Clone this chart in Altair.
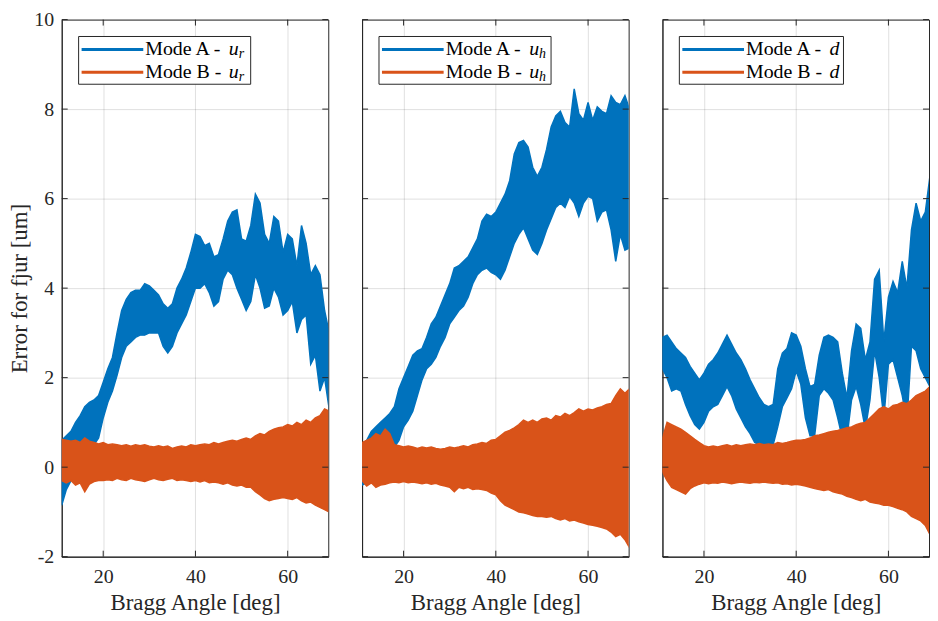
import altair as alt
import pandas as pd

# ---------------- data (envelopes) ----------------
DEG = list(range(11, 70))

# Panel 1 : u_r
P1_A_HI = [0.6, 0.7, 0.8, 1.0, 1.15, 1.35, 1.45, 1.5, 1.6, 1.9, 2.2, 2.45, 3.0, 3.5, 3.75, 3.9, 3.95, 3.95, 4.1, 4.05,
           3.95, 3.85, 3.65, 3.55, 3.65, 4.0, 4.2, 4.45, 4.8, 5.2, 5.15, 4.95, 5.0, 4.7, 4.75, 5.1, 5.5, 5.7, 5.75, 5.1,
           5.05, 5.4, 6.1, 5.9, 5.2, 5.0, 5.6, 5.5, 4.8, 5.2, 5.1, 4.5, 5.4, 5.0, 4.3, 4.5, 4.3, 3.5, 3.0]
P1_A_LO = [-0.85, -0.5, -0.3, -0.1, 0.05, 0.2, 0.35, 0.5, 0.65, 1.1, 1.45, 1.7, 2.05, 2.45, 2.7, 2.8, 2.9, 2.95, 2.95, 3.0,
           3.0, 3.0, 2.7, 2.55, 2.7, 3.0, 3.2, 3.4, 3.7, 4.0, 4.0, 4.1, 3.9, 3.6, 3.7, 4.2, 4.4, 4.3, 4.0, 3.75,
           3.5, 3.7, 4.3, 4.0, 3.55, 3.6, 4.0, 3.8, 3.4, 3.5, 3.7, 3.0, 3.3, 3.4, 2.3, 2.5, 1.7, 2.0, 1.3]
P1_B_HI = [0.62, 0.6, 0.58, 0.6, 0.55, 0.65, 0.58, 0.55, 0.52, 0.55, 0.5, 0.52, 0.5, 0.48, 0.5, 0.47, 0.5, 0.48, 0.5, 0.47,
           0.45, 0.48, 0.45, 0.47, 0.42, 0.45, 0.47, 0.45, 0.5, 0.48, 0.5, 0.52, 0.5, 0.55, 0.52, 0.55, 0.58, 0.6, 0.58, 0.62,
           0.65, 0.62, 0.7, 0.75, 0.72, 0.8, 0.85, 0.88, 0.9, 0.95, 0.92, 1.0, 0.95, 1.05, 1.0, 1.1, 1.15, 1.3, 1.25]
P1_B_LO = [-0.3, -0.35, -0.3, -0.4, -0.35, -0.55, -0.38, -0.32, -0.3, -0.3, -0.28, -0.3, -0.25, -0.28, -0.3, -0.25, -0.28, -0.3, -0.32, -0.28,
           -0.25, -0.28, -0.3, -0.27, -0.25, -0.3, -0.28, -0.3, -0.32, -0.3, -0.33, -0.3, -0.35, -0.33, -0.35, -0.38, -0.35, -0.4, -0.42, -0.4,
           -0.45, -0.45, -0.55, -0.62, -0.7, -0.75, -0.72, -0.7, -0.68, -0.7, -0.72, -0.68, -0.75, -0.8, -0.78, -0.85, -0.9, -0.95, -1.0]

# Panel 2 : u_h
P2_A_HI = [0.5, 0.6, 0.8, 0.9, 1.0, 1.1, 1.2, 1.35, 1.75, 2.0, 2.25, 2.5, 2.6, 2.65, 2.9, 3.2, 3.35, 3.6, 3.85, 4.1,
           4.45, 4.5, 4.6, 4.7, 4.9, 5.1, 5.5, 5.65, 5.6, 5.7, 5.9, 6.1, 6.4, 7.0, 7.25, 7.3, 7.15, 6.7, 6.5, 6.7,
           7.1, 7.6, 7.85, 7.95, 7.7, 7.6, 8.45, 7.9, 7.75, 8.15, 7.75, 8.05, 7.95, 7.9, 8.3, 8.15, 8.1, 8.3, 8.0]
P2_A_LO = [-0.4, -0.35, -0.25, -0.1, 0.0, 0.15, 0.3, 0.45, 0.6, 0.9, 1.05, 1.25, 1.6, 1.95, 2.2, 2.3, 2.45, 2.7, 2.9, 3.2,
           3.35, 3.5, 3.6, 3.8, 4.1, 4.3, 4.4, 4.45, 4.35, 4.3, 4.2, 4.4, 4.7, 5.0, 5.2, 5.35, 5.1, 4.85, 4.75, 5.0,
           5.3, 5.55, 5.8, 5.9, 5.8, 6.05, 5.9, 5.6, 5.9, 6.05, 6.0, 5.5, 5.7, 5.75, 5.3, 4.6, 5.2, 4.85, 4.9]
P2_B_HI = [0.55, 0.6, 0.65, 0.75, 0.7, 0.85, 0.75, 0.5, 0.48, 0.45, 0.47, 0.45, 0.42, 0.45, 0.43, 0.45, 0.42, 0.4, 0.42, 0.45,
           0.43, 0.45, 0.48, 0.45, 0.5, 0.52, 0.55, 0.53, 0.6, 0.62, 0.7, 0.78, 0.82, 0.88, 0.95, 1.05, 1.0, 1.05, 1.0, 1.08,
           1.1, 1.05, 1.15, 1.12, 1.2, 1.15, 1.22, 1.3, 1.25, 1.3, 1.28, 1.32, 1.35, 1.4, 1.42, 1.6, 1.75, 1.65, 1.75]
P2_B_LO = [-0.3, -0.42, -0.35, -0.45, -0.4, -0.38, -0.35, -0.33, -0.35, -0.32, -0.35, -0.33, -0.35, -0.37, -0.35, -0.38, -0.36, -0.4, -0.42, -0.45,
           -0.55, -0.45, -0.48, -0.45, -0.5, -0.48, -0.5, -0.52, -0.58, -0.62, -0.75, -0.85, -0.9, -0.95, -1.0, -1.02, -1.05, -1.08, -1.1, -1.1,
           -1.12, -1.1, -1.15, -1.18, -1.15, -1.2, -1.18, -1.22, -1.25, -1.28, -1.3, -1.32, -1.35, -1.38, -1.45, -1.55, -1.5, -1.62, -1.8]

# Panel 3 : d
P3_A_HI = [2.9, 2.95, 2.8, 2.65, 2.55, 2.45, 2.25, 2.1, 1.95, 2.1, 2.3, 2.4, 2.55, 2.75, 2.95, 2.75, 2.55, 2.4, 2.2, 1.95,
           1.75, 1.55, 1.4, 1.35, 1.4, 2.2, 2.55, 2.65, 3.0, 2.95, 2.7, 2.2, 1.8, 1.85, 2.5, 2.9, 2.95, 2.9, 2.8, 2.1,
           1.55, 2.6, 3.2, 3.1, 2.4, 2.8, 4.2, 4.4, 2.8, 3.8, 4.15, 3.9, 4.6, 4.0, 5.3, 5.9, 5.5, 5.7, 6.5]
P3_A_LO = [2.2, 2.0, 1.7, 1.75, 1.7, 1.4, 1.15, 0.95, 0.85, 1.0, 1.25, 1.35, 1.4, 1.6, 1.8, 1.6, 1.3, 1.1, 0.9, 0.75,
           0.55, 0.5, 0.45, 0.45, 0.5, 0.9, 1.35, 1.55, 1.75, 2.15, 1.85, 1.1, 0.7, 0.7, 1.6, 1.75, 1.65, 1.5, 1.1, 0.65,
           0.65, 1.5, 1.8, 1.4, 0.85, 1.5, 2.6, 2.0, 1.1, 2.3, 2.4, 2.0, 1.6, 1.0, 2.7, 2.6, 2.2, 2.0, 1.8]
P3_B_HI = [0.65, 1.0, 0.95, 0.9, 0.85, 0.78, 0.7, 0.62, 0.55, 0.48, 0.45, 0.47, 0.45, 0.48, 0.5, 0.47, 0.5, 0.48, 0.5, 0.52,
           0.5, 0.53, 0.5, 0.52, 0.5, 0.55, 0.53, 0.55, 0.58, 0.6, 0.6, 0.62, 0.65, 0.7, 0.72, 0.75, 0.78, 0.8, 0.82, 0.85,
           0.88, 0.9, 0.95, 0.98, 1.0, 1.1, 1.2, 1.3, 1.35, 1.3, 1.38, 1.4, 1.45, 1.42, 1.5, 1.6, 1.65, 1.7, 1.8]
P3_B_LO = [-0.1, -0.3, -0.45, -0.5, -0.55, -0.6, -0.48, -0.42, -0.38, -0.35, -0.37, -0.35, -0.36, -0.33, -0.35, -0.37, -0.35, -0.33, -0.35, -0.36,
           -0.34, -0.35, -0.33, -0.35, -0.36, -0.35, -0.38, -0.37, -0.4, -0.38, -0.4, -0.42, -0.45, -0.48, -0.5, -0.52, -0.5, -0.55, -0.58, -0.6,
           -0.65, -0.68, -0.72, -0.75, -0.72, -0.78, -0.8, -0.82, -0.85, -0.85, -0.88, -0.92, -0.95, -1.0, -1.1, -1.15, -1.2, -1.3, -1.5]

X_TICKS = [20, 40, 60]
Y_TICKS = [-2, 0, 2, 4, 6, 8, 10]
X_DOMAIN = [11, 68.8]
Y_DOMAIN = [-2, 10]

SERIES_A = "Mode A -"
SERIES_B = "Mode B -"
SYMBOLS = [("u", "r"), ("u", "h"), ("d", "")]
BOX_RIGHT = [190, 190, 182]

# ---------------- style ----------------
BLUE = "#0072BD"
ORANGE = "#D95319"
AX = "#262626"
FONT = "Liberation Serif, DejaVu Serif, serif"
W, H = 268, 540
LABEL_EXPR = "datum.value < 0 ? '-' + abs(datum.value) : '' + datum.value"


def panel(a_lo, a_hi, b_lo, b_hi, sym, sub, box_right, first):
    df = pd.DataFrame({"deg": DEG, "a_lo": a_lo, "a_hi": a_hi, "b_lo": b_lo, "b_hi": b_hi})
    xs = alt.Scale(domain=X_DOMAIN, nice=False, zero=False)
    ys = alt.Scale(domain=Y_DOMAIN, nice=False, zero=False)
    xaxis = alt.Axis(values=X_TICKS, title="Bragg Angle [deg]", ticks=False, tickSize=0,
                     labelPadding=20, labelBaseline="middle", titleBaseline="middle",
                     titleY=46, titleX=W / 2, titleAlign="center")
    ykw = dict(values=Y_TICKS, ticks=False, tickSize=0, labels=first, labelPadding=8,
               labelExpr=LABEL_EXPR)
    if first:
        ykw.update(title="Error for fjur [um]", titleAngle=-90, titleX=-42, titleY=H / 2,
                   titleBaseline="middle", titleAlign="center")
    else:
        ykw.update(title="")
    yaxis = alt.Axis(**ykw)

    blue = alt.Chart(df).mark_area(color=BLUE, stroke=BLUE, strokeWidth=1.5, clip=True).encode(
        x=alt.X("deg:Q", scale=xs, axis=xaxis),
        y=alt.Y("a_lo:Q", scale=ys, axis=yaxis),
        y2="a_hi:Q",
    )
    orange = alt.Chart(df).mark_area(color=ORANGE, stroke=ORANGE, strokeWidth=1.5, clip=True).encode(
        x=alt.X("deg:Q", scale=xs),
        y=alt.Y("b_lo:Q", scale=ys),
        y2="b_hi:Q",
    )

    ydf = pd.DataFrame({"v": Y_TICKS})
    xdf = pd.DataFrame({"v": X_TICKS})
    tl = alt.Chart(ydf).mark_rule(color=AX, strokeWidth=1).encode(
        y=alt.Y("v:Q", scale=ys), x=alt.value(0), x2=alt.value(6))
    tr = alt.Chart(ydf).mark_rule(color=AX, strokeWidth=1).encode(
        y=alt.Y("v:Q", scale=ys), x=alt.value(W - 6), x2=alt.value(W))
    tb = alt.Chart(xdf).mark_rule(color=AX, strokeWidth=1).encode(
        x=alt.X("v:Q", scale=xs), y=alt.value(H - 6), y2=alt.value(H))
    tt = alt.Chart(xdf).mark_rule(color=AX, strokeWidth=1).encode(
        x=alt.X("v:Q", scale=xs), y=alt.value(0), y2=alt.value(6))

    one = pd.DataFrame({"k": [0]})
    box = alt.Chart(one).mark_rect(fill="white", stroke=AX, strokeWidth=1).encode(
        x=alt.value(17), x2=alt.value(box_right), y=alt.value(17), y2=alt.value(65))
    la = alt.Chart(one).mark_rule(color=BLUE, strokeWidth=3).encode(
        x=alt.value(20), x2=alt.value(82), y=alt.value(30))
    lb = alt.Chart(one).mark_rule(color=ORANGE, strokeWidth=3).encode(
        x=alt.value(20), x2=alt.value(82), y=alt.value(53))
    layers = [blue, orange, tl, tr, tb, tt, box, la, lb]
    for yy, name in [(30, SERIES_A), (53, SERIES_B)]:
        layers.append(alt.Chart(one).mark_text(align="left", baseline="middle", font=FONT, fontSize=20,
                                               color="black").encode(
            x=alt.value(84), y=alt.value(yy), text=alt.value(name)))
        layers.append(alt.Chart(one).mark_text(align="left", baseline="middle", font=FONT, fontSize=20,
                                               fontStyle="italic", color="black").encode(
            x=alt.value(168), y=alt.value(yy), text=alt.value(sym)))
        if sub:
            layers.append(alt.Chart(one).mark_text(align="left", baseline="middle", font=FONT, fontSize=14,
                                                   fontStyle="italic", color="black").encode(
                x=alt.value(178), y=alt.value(yy + 5), text=alt.value(sub)))
    return alt.layer(*layers).properties(width=W, height=H)


p1 = panel(P1_A_LO, P1_A_HI, P1_B_LO, P1_B_HI, SYMBOLS[0][0], SYMBOLS[0][1], BOX_RIGHT[0], True)
p2 = panel(P2_A_LO, P2_A_HI, P2_B_LO, P2_B_HI, SYMBOLS[1][0], SYMBOLS[1][1], BOX_RIGHT[1], False)
p3 = panel(P3_A_LO, P3_A_HI, P3_B_LO, P3_B_HI, SYMBOLS[2][0], SYMBOLS[2][1], BOX_RIGHT[2], False)

chart = alt.hconcat(p1, p2, p3, spacing=32).properties(
    padding={"left": 0, "top": -1, "right": 0, "bottom": 0}
).configure_view(stroke=AX, strokeWidth=1).configure_axis(
    domainColor=AX, domainWidth=1, labelColor=AX, labelFont=FONT, labelFontSize=20,
    titleColor=AX, titleFont=FONT, titleFontSize=23, titleFontWeight="normal",
    gridColor=AX, gridOpacity=0.15, gridWidth=1,
)

chart.save("out.html", embed_options={"renderer": "svg", "actions": False})
